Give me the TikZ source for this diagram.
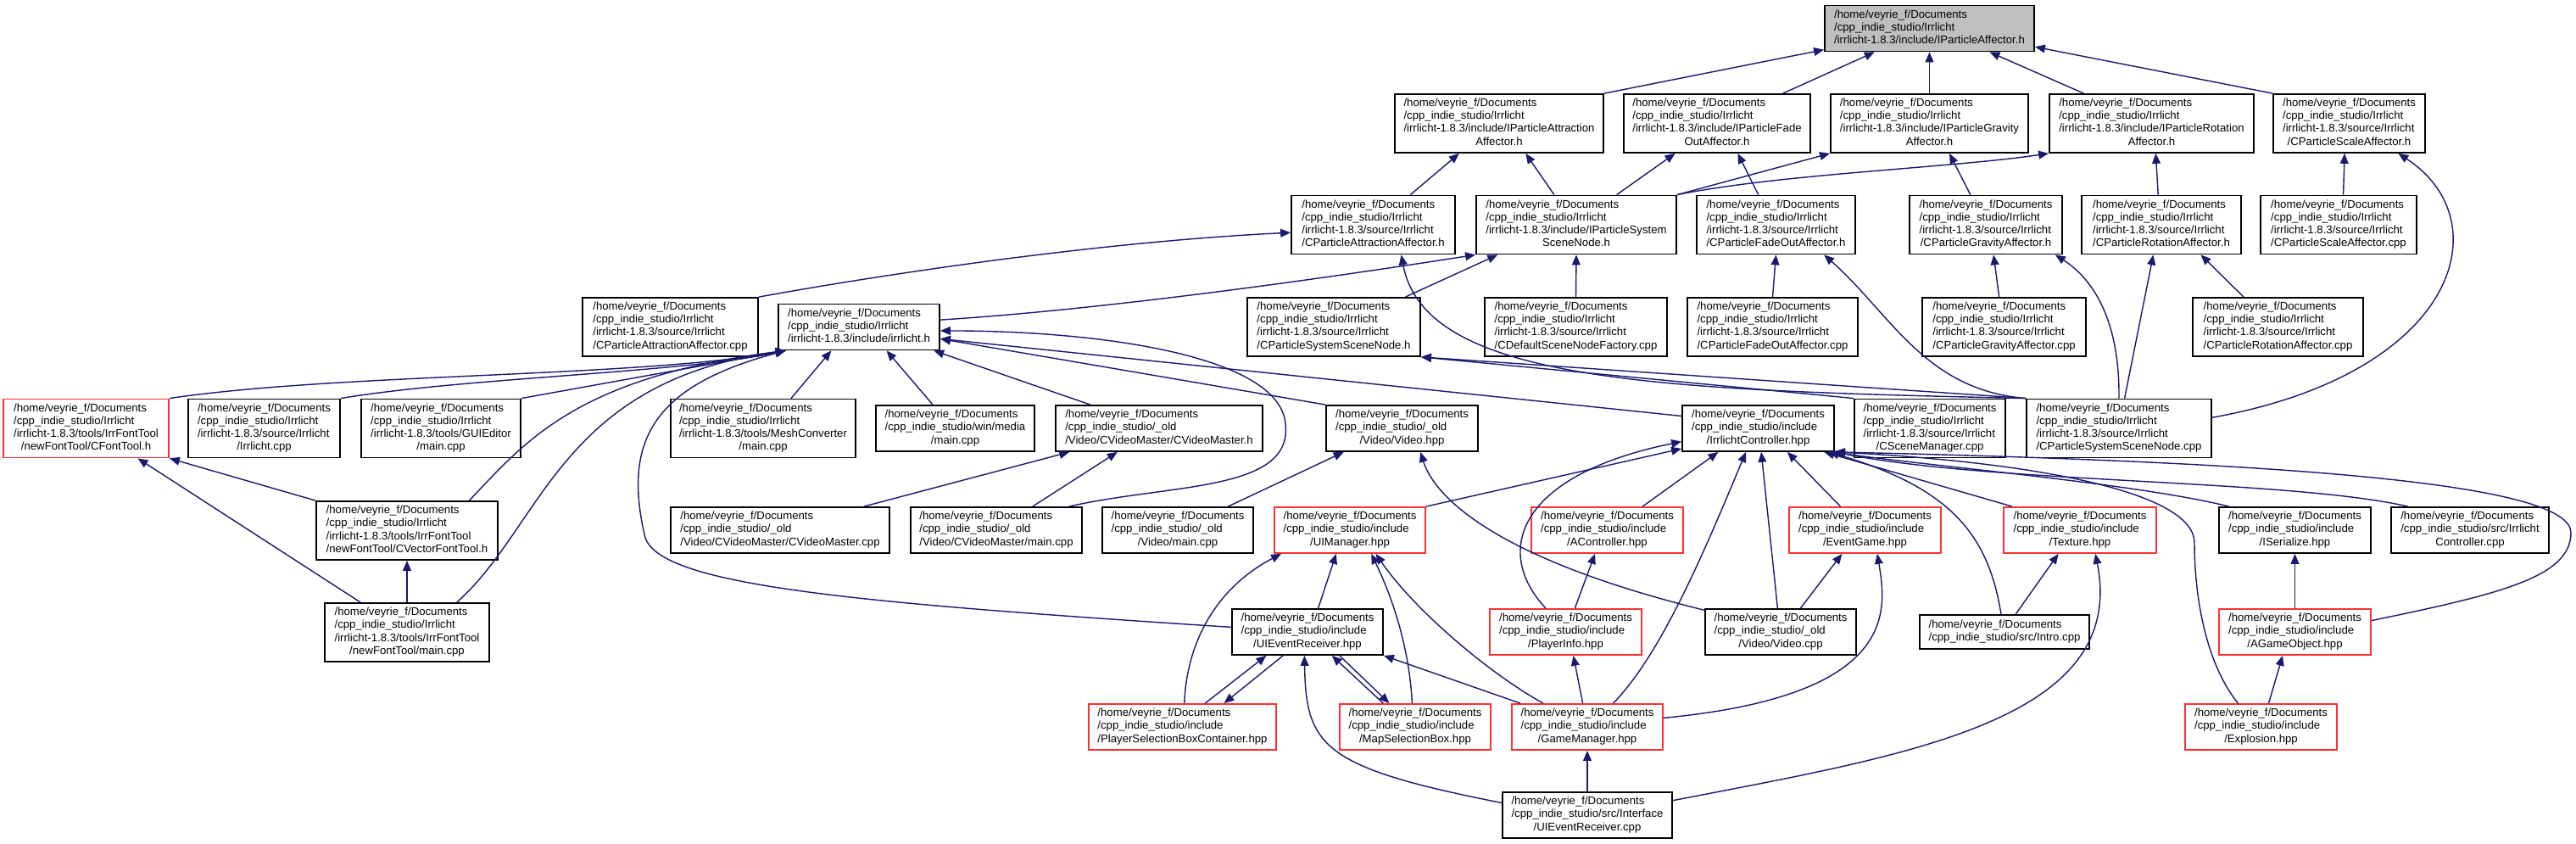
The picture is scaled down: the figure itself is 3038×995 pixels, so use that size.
\documentclass[tikz,border=0pt]{standalone}
\usepackage{fontspec}
\setmainfont{Liberation Sans}
\usetikzlibrary{arrows.meta,calc}
\definecolor{edgeblue}{HTML}{191970}
\definecolor{truncred}{HTML}{FF3030}
\definecolor{curgray}{HTML}{BFBFBF}

% graph font and label helpers
\newcommand{\gfont}{\fontsize{3.75}{4.27}\selectfont}
\newcommand{\flab}[2]{\begin{tabular}{@{}l@{}}#1\\\multicolumn{1}{@{}c@{}}{#2}\end{tabular}}
\newcommand{\dHome}{/home/veyrie\_f/Documents}
\newcommand{\dIrr}{/cpp\_indie\_studio/Irrlicht}
\newcommand{\dSrc}{/irrlicht-1.8.3/source/Irrlicht}
\newcommand{\dInc}{/cpp\_indie\_studio/include}
\newcommand{\dOld}{/cpp\_indie\_studio/\_old}
% points on the sides of a box
\newcommand{\onN}[2]{($(#1.north west)!#2!(#1.north east)$)}
\newcommand{\onS}[2]{($(#1.south west)!#2!(#1.south east)$)}
\newcommand{\onW}[2]{($(#1.north west)!#2!(#1.south west)$)}
\newcommand{\onE}[2]{($(#1.north east)!#2!(#1.south east)$)}

\tikzset{
  file/.style={draw=black, line width=0.5pt, fill=white, inner sep=0pt,
    font=\gfont, minimum height=0.69cm},
  f3/.style={minimum height=0.54cm},
  f2/.style={minimum height=0.40cm},
  trunc/.style={draw=truncred},
  cur/.style={fill=curgray},
  incl/.style={draw=edgeblue, line width=0.4pt,
    -{Triangle[length=3.4pt,width=2.8pt]}}
}

\begin{document}
\begin{tikzpicture}[x=0.01cm, y=-0.01cm]
  \useasboundingbox (0,0) rectangle (3038,995);

  % top: the affector header
  \node[file, cur, f3, minimum width=2.47cm] (ipa) at (2275.5,33.5) {\flab{\dHome\\\dIrr}{/irrlicht-1.8.3/include/IParticleAffector.h}};

  % row 1
  \node[file, minimum width=2.46cm] (ipattr) at (1768,145.5) {\flab{\dHome\\\dIrr\\/irrlicht-1.8.3/include/IParticleAttraction}{Affector.h}};
  \node[file, minimum width=2.20cm] (ipfade) at (2025,145.5) {\flab{\dHome\\\dIrr\\/irrlicht-1.8.3/include/IParticleFade}{OutAffector.h}};
  \node[file, minimum width=2.33cm] (ipgrav) at (2275.5,145.5) {\flab{\dHome\\\dIrr\\/irrlicht-1.8.3/include/IParticleGravity}{Affector.h}};
  \node[file, minimum width=2.41cm] (iprot) at (2537.5,145.5) {\flab{\dHome\\\dIrr\\/irrlicht-1.8.3/include/IParticleRotation}{Affector.h}};
  \node[file, minimum width=1.79cm] (cpscaleH) at (2770.5,145.5) {\flab{\dHome\\\dIrr\\\dSrc}{/CParticleScaleAffector.h}};

  % row 2
  \node[file, minimum width=1.93cm] (cpattrH) at (1619.5,265) {\flab{\dHome\\\dIrr\\\dSrc}{/CParticleAttractionAffector.h}};
  \node[file, minimum width=2.36cm] (ipsys) at (1859,265) {\flab{\dHome\\\dIrr\\/irrlicht-1.8.3/include/IParticleSystem}{SceneNode.h}};
  \node[file, minimum width=1.87cm] (cpfadeH) at (2094.5,265) {\flab{\dHome\\\dIrr\\\dSrc}{/CParticleFadeOutAffector.h}};
  \node[file, minimum width=1.80cm] (cpgravH) at (2342,265) {\flab{\dHome\\\dIrr\\\dSrc}{/CParticleGravityAffector.h}};
  \node[file, minimum width=1.88cm] (cprotH) at (2549,265) {\flab{\dHome\\\dIrr\\\dSrc}{/CParticleRotationAffector.h}};
  \node[file, minimum width=1.84cm] (cpscaleCpp) at (2758,265) {\flab{\dHome\\\dIrr\\\dSrc}{/CParticleScaleAffector.cpp}};

  % row 3
  \node[file, minimum width=2.07cm] (cpattrCpp) at (790.5,385.5) {\flab{\dHome\\\dIrr\\\dSrc}{/CParticleAttractionAffector.cpp}};
  \node[file, f3, minimum width=1.90cm] (irrlichtH) at (1013,385.5) {\flab{\dHome\\\dIrr}{/irrlicht-1.8.3/include/irrlicht.h}};
  \node[file, minimum width=2.04cm] (cpsysH) at (1573,385.5) {\flab{\dHome\\\dIrr\\\dSrc}{/CParticleSystemSceneNode.h}};
  \node[file, minimum width=2.15cm] (cdefault) at (1858.5,385.5) {\flab{\dHome\\\dIrr\\\dSrc}{/CDefaultSceneNodeFactory.cpp}};
  \node[file, minimum width=2.01cm] (cpfadeCpp) at (2090.5,385.5) {\flab{\dHome\\\dIrr\\\dSrc}{/CParticleFadeOutAffector.cpp}};
  \node[file, minimum width=1.93cm] (cpgravCpp) at (2363.5,385.5) {\flab{\dHome\\\dIrr\\\dSrc}{/CParticleGravityAffector.cpp}};
  \node[file, minimum width=2.01cm] (cprotCpp) at (2686.5,385.5) {\flab{\dHome\\\dIrr\\\dSrc}{/CParticleRotationAffector.cpp}};

  % row 4
  \node[file, trunc, minimum width=1.95cm] (cfonttool) at (101.5,505) {\flab{\dHome\\\dIrr\\/irrlicht-1.8.3/tools/IrrFontTool}{/newFontTool/CFontTool.h}};
  \node[file, minimum width=1.79cm] (irrlichtCpp) at (311.5,505) {\flab{\dHome\\\dIrr\\\dSrc}{/Irrlicht.cpp}};
  \node[file, minimum width=1.88cm] (guieditor) at (520,505) {\flab{\dHome\\\dIrr\\/irrlicht-1.8.3/tools/GUIEditor}{/main.cpp}};
  \node[file, minimum width=2.18cm] (meshconv) at (900,505) {\flab{\dHome\\\dIrr\\/irrlicht-1.8.3/tools/MeshConverter}{/main.cpp}};
  \node[file, f3, minimum width=1.87cm] (winmedia) at (1126.5,505) {\flab{\dHome\\/cpp\_indie\_studio/win/media}{/main.cpp}};
  \node[file, f3, minimum width=2.44cm] (cvmH) at (1367,505) {\flab{\dHome\\\dOld}{/Video/CVideoMaster/CVideoMaster.h}};
  \node[file, f3, minimum width=1.79cm] (videoHpp) at (1653.5,505) {\flab{\dHome\\\dOld}{/Video/Video.hpp}};
  \node[file, f3, minimum width=1.79cm] (irrctrlHpp) at (2073.5,505) {\flab{\dHome\\\dInc}{/IrrlichtController.hpp}};
  \node[file, minimum width=1.78cm] (cscenemgr) at (2276,505) {\flab{\dHome\\\dIrr\\\dSrc}{/CSceneManager.cpp}};
  \node[file, minimum width=2.18cm] (cpsysCpp) at (2499,505) {\flab{\dHome\\\dIrr\\\dSrc}{/CParticleSystemSceneNode.cpp}};

  % row 5
  \node[file, minimum width=2.14cm] (cvectorfont) at (480,625.5) {\flab{\dHome\\\dIrr\\/irrlicht-1.8.3/tools/IrrFontTool}{/newFontTool/CVectorFontTool.h}};
  \node[file, f3, minimum width=2.58cm] (cvmCpp) at (920,625) {\flab{\dHome\\\dOld}{/Video/CVideoMaster/CVideoMaster.cpp}};
  \node[file, f3, minimum width=2.02cm] (cvmMain) at (1175,625) {\flab{\dHome\\\dOld}{/Video/CVideoMaster/main.cpp}};
  \node[file, f3, minimum width=1.78cm] (videoMain) at (1389,625) {\flab{\dHome\\\dOld}{/Video/main.cpp}};
  \node[file, f3, trunc, minimum width=1.78cm] (uimanager) at (1592,625) {\flab{\dHome\\\dInc}{/UIManager.hpp}};
  \node[file, f3, trunc, minimum width=1.79cm] (acontroller) at (1895.5,625) {\flab{\dHome\\\dInc}{/AController.hpp}};
  \node[file, f3, trunc, minimum width=1.79cm] (eventgame) at (2199.5,625) {\flab{\dHome\\\dInc}{/EventGame.hpp}};
  \node[file, f3, trunc, minimum width=1.80cm] (texture) at (2453,625) {\flab{\dHome\\\dInc}{/Texture.hpp}};
  \node[file, f3, minimum width=1.79cm] (iserialize) at (2706.5,625) {\flab{\dHome\\\dInc}{/ISerialize.hpp}};
  \node[file, f3, minimum width=1.86cm] (irrctrlCpp) at (2913,625) {\flab{\dHome\\/cpp\_indie\_studio/src/Irrlicht}{Controller.cpp}};

  % row 6
  \node[file, minimum width=1.94cm] (newfontMain) at (480,745.5) {\flab{\dHome\\\dIrr\\/irrlicht-1.8.3/tools/IrrFontTool}{/newFontTool/main.cpp}};
  \node[file, f3, minimum width=1.78cm] (uiev) at (1542,745) {\flab{\dHome\\\dInc}{/UIEventReceiver.hpp}};
  \node[file, f3, trunc, minimum width=1.79cm] (playerinfo) at (1846.5,745) {\flab{\dHome\\\dInc}{/PlayerInfo.hpp}};
  \node[file, f3, minimum width=1.78cm] (videoCpp) at (2100,745) {\flab{\dHome\\\dOld}{/Video/Video.cpp}};
  \node[file, f2, minimum width=2.00cm] (intro) at (2364,745) {\flab{\dHome}{/cpp\_indie\_studio/src/Intro.cpp}};
  \node[file, f3, trunc, minimum width=1.79cm] (agameobject) at (2706.5,745) {\flab{\dHome\\\dInc}{/AGameObject.hpp}};

  % row 7
  \node[file, f3, trunc, minimum width=2.21cm] (psbc) at (1394.5,857) {\flab{\dHome\\\dInc}{/PlayerSelectionBoxContainer.hpp}};
  \node[file, f3, trunc, minimum width=1.78cm] (mapsel) at (1669,857) {\flab{\dHome\\\dInc}{/MapSelectionBox.hpp}};
  \node[file, f3, trunc, minimum width=1.78cm] (gamemgr) at (1872,857) {\flab{\dHome\\\dInc}{/GameManager.hpp}};
  \node[file, f3, trunc, minimum width=1.79cm] (explosion) at (2666.5,857) {\flab{\dHome\\\dInc}{/Explosion.hpp}};

  % row 8
  \node[file, f3, minimum width=2.00cm] (uieventCpp) at (1872,961) {\flab{\dHome\\/cpp\_indie\_studio/src/Interface}{/UIEventReceiver.cpp}};

  % includes of the affector headers
  \draw[incl] (ipattr.north east) -- \onW{ipa}{.95};
  \draw[incl] \onN{ipfade}{.85} -- \onS{ipa}{.24};
  \draw[incl] (ipgrav.north) -- (ipa.south);
  \draw[incl] \onN{iprot}{.17} -- \onS{ipa}{.785};
  \draw[incl] (cpscaleH.north west) -- \onE{ipa}{.89};
  \draw[incl] \onN{cpattrH}{.725} -- \onS{ipattr}{.31};
  \draw[incl] \onN{ipsys}{.39} -- \onS{ipattr}{.626};
  \draw[incl] \onN{ipsys}{.70} -- \onS{ipfade}{.277};
  \draw[incl] \onN{cpfadeH}{.39} -- \onS{ipfade}{.61};
  \draw[incl] (ipsys.north east) -- (ipgrav.south west);
  \draw[incl] (ipsys.north east) .. controls (2100,205) and (2300,198) .. (iprot.south west);
  \draw[incl] \onN{cpgravH}{.4} -- \onS{ipgrav}{.6};
  \draw[incl] \onN{cprotH}{.48} -- \onS{iprot}{.52};
  \draw[incl] \onN{cpscaleCpp}{.53} -- \onS{cpscaleH}{.47};
  \draw[incl] \onE{cpsysCpp}{.32} .. controls (2900,440) and (2950,260) .. \onS{cpscaleH}{.82};
  \draw[incl] (cpattrCpp.north east) .. controls (1050,322) and (1300,285) .. \onW{cpattrH}{.63};
  \draw[incl] (cpsysCpp.north west) .. controls (1950,460) and (1680,450) .. \onS{cpattrH}{.67};
  \draw[incl] \onE{irrlichtH}{.35} .. controls (1300,365) and (1550,330) .. (ipsys.south west);
  \draw[incl] \onN{cpsysH}{.91} -- \onS{ipsys}{.11};
  \draw[incl] (cdefault.north) -- (ipsys.south);
  \draw[incl] (cpfadeCpp.north) -- (cpfadeH.south);
  \draw[incl] (cpsysCpp.north west) .. controls (2270,460) and (2230,370) .. \onS{cpfadeH}{.8};
  \draw[incl] \onN{cpgravCpp}{.47} -- \onS{cpgravH}{.55};
  \draw[incl] (cpsysCpp.north) .. controls (2500,380) and (2470,330) .. \onS{cpgravH}{.95};
  \draw[incl] \onN{cprotCpp}{.3} -- \onS{cprotH}{.745};
  \draw[incl] \onN{cpsysCpp}{.53} -- \onS{cprotH}{.45};
  \draw[incl] (cpsysCpp.north west) -- (cpsysH.south east);
  \draw[incl] (cscenemgr.north west) -- (cpsysH.south east);

  % includes of irrlicht.h
  \draw[incl] (cfonttool.north east) .. controls (400,440) and (750,445) .. \onS{irrlichtH}{.05};
  \draw[incl] (irrlichtCpp.north east) .. controls (550,445) and (800,440) .. \onS{irrlichtH}{.05};
  \draw[incl] (guieditor.north east) -- \onS{irrlichtH}{.05};
  \draw[incl] \onN{cvectorfont}{.84} .. controls (620,520) and (680,445) .. \onS{irrlichtH}{.05};
  \draw[incl] \onN{newfontMain}{.8} .. controls (640,620) and (660,450) .. \onS{irrlichtH}{.05};
  \draw[incl] \onN{meshconv}{.65} -- \onS{irrlichtH}{.33};
  \draw[incl] \onN{winmedia}{.36} -- \onS{irrlichtH}{.67};
  \draw[incl] \onN{cvmH}{.17} -- \onS{irrlichtH}{.96};
  \draw[incl] \onN{cvmMain}{.92} .. controls (1380,570) and (1525,580) .. (1516,500)
    .. controls (1510,420) and (1300,390) .. \onE{irrlichtH}{.58};
  \draw[incl] (videoHpp.north west) -- \onE{irrlichtH}{.75};
  \draw[incl] \onW{irrctrlHpp}{.24} -- \onE{irrlichtH}{.75};
  \draw[incl] \onW{uiev}{.4} .. controls (1000,710) and (770,690) .. (760,630)
    .. controls (735,520) and (770,455) .. \onS{irrlichtH}{.05};

  % font tool and video
  \draw[incl] (cvectorfont.north west) -- (cfonttool.south east);
  \draw[incl] \onN{newfontMain}{.22} -- \onS{cfonttool}{.81};
  \draw[incl] (newfontMain.north) -- (cvectorfont.south);
  \draw[incl] \onN{cvmCpp}{.88} -- \onS{cvmH}{.07};
  \draw[incl] \onN{cvmMain}{.71} -- \onS{cvmH}{.3};
  \draw[incl] \onN{videoMain}{.83} -- \onS{videoHpp}{.12};
  \draw[incl] \onW{videoCpp}{.04} .. controls (1750,655) and (1690,580) .. \onS{videoHpp}{.62};

  % includes of IrrlichtController.hpp
  \draw[incl] (uimanager.north east) -- \onW{irrctrlHpp}{.93};
  \draw[incl] \onN{playerinfo}{.37} .. controls (1760,650) and (1790,560) .. \onW{irrctrlHpp}{.78};
  \draw[incl] \onN{acontroller}{.73} -- \onS{irrctrlHpp}{.24};
  \draw[incl] \onN{gamemgr}{.67} .. controls (1960,770) and (2010,650) .. \onS{irrctrlHpp}{.42};
  \draw[incl] \onN{videoCpp}{.48} -- \onS{irrctrlHpp}{.52};
  \draw[incl] \onN{eventgame}{.34} -- \onS{irrctrlHpp}{.69};
  \draw[incl] \onN{texture}{.06} -- \onS{irrctrlHpp}{.93};
  \draw[incl] \onN{intro}{.48} .. controls (2345,630) and (2300,575) .. \onS{irrctrlHpp}{.96};
  \draw[incl] \onN{iserialize}{.07} .. controls (2520,570) and (2280,550) .. \onS{irrctrlHpp}{.98};
  \draw[incl] \onN{irrctrlCpp}{.11} .. controls (2700,565) and (2350,570) .. (irrctrlHpp.south east);
  \draw[incl] \onE{agameobject}{.26} .. controls (2950,700) and (3032,680) .. (3032,628)
    .. controls (3032,570) and (2700,545) .. (irrctrlHpp.south east);
  \draw[incl] \onN{explosion}{.35} .. controls (2600,780) and (2588,700) .. (2588,640)
    .. controls (2588,580) and (2400,545) .. (irrctrlHpp.south east);

  % game side
  \draw[incl] \onN{uiev}{.57} -- \onS{uimanager}{.41};
  \draw[incl] \onN{psbc}{.51} .. controls (1400,750) and (1440,690) .. \onS{uimanager}{.05};
  \draw[incl] \onN{mapsel}{.48} .. controls (1662,760) and (1640,700) .. \onS{uimanager}{.64};
  \draw[incl] \onN{gamemgr}{.21} .. controls (1750,790) and (1665,715) .. \onS{uimanager}{.67};
  \draw[incl] \onN{playerinfo}{.56} -- \onS{acontroller}{.42};
  \draw[incl] \onN{videoCpp}{.63} -- \onS{eventgame}{.35};
  \draw[incl] \onE{gamemgr}{.31} .. controls (2240,820) and (2225,720) .. \onS{eventgame}{.58};
  \draw[incl] \onN{intro}{.565} -- \onS{texture}{.36};
  \draw[incl] \onE{uieventCpp}{.19} .. controls (2250,890) and (2510,850) .. \onS{texture}{.6};
  \draw[incl] (agameobject.north) -- (iserialize.south);
  \draw[incl] \onN{explosion}{.55} -- \onS{agameobject}{.42};
  \draw[incl] \onN{psbc}{.62} -- \onS{uiev}{.23};
  \draw[incl] \onS{uiev}{.34} -- \onN{psbc}{.72};
  \draw[incl] \onN{mapsel}{.29} -- \onS{uiev}{.66};
  \draw[incl] \onS{uiev}{.71} -- \onN{mapsel}{.33};
  \draw[incl] \onN{gamemgr}{.06} -- (uiev.south east);
  \draw[incl] \onW{uieventCpp}{.24} .. controls (1560,905) and (1540,880) .. \onS{uiev}{.48};
  \draw[incl] \onN{gamemgr}{.47} -- \onS{playerinfo}{.55};
  \draw[incl] (uieventCpp.north) -- (gamemgr.south);
\end{tikzpicture}
\end{document}
